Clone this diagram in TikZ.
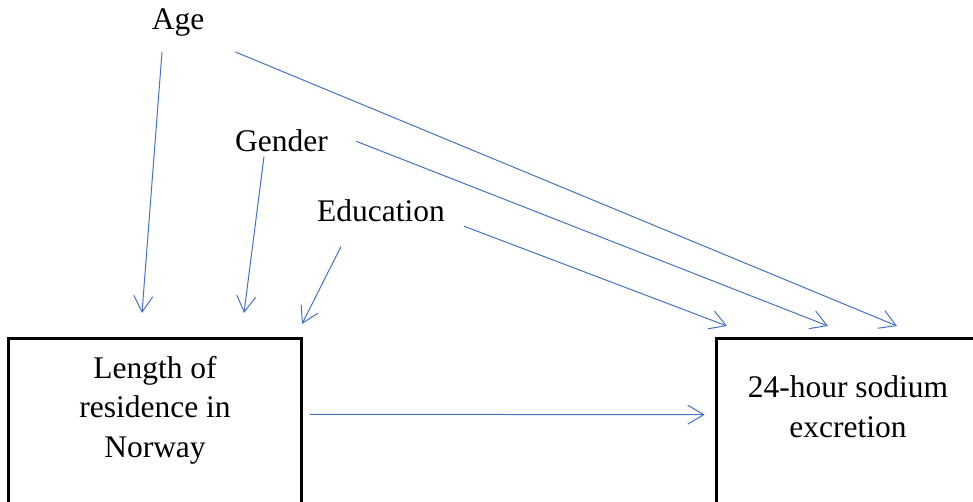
\documentclass[tikz,border=0pt]{standalone}
\usepackage{fontspec}
\setmainfont{Liberation Serif}
\usetikzlibrary{arrows.meta}
\definecolor{arrblue}{HTML}{4472C4}

\begin{document}
\begin{tikzpicture}[x=1pt,y=1pt,
    lbl/.style={inner sep=0pt,anchor=base,font=\fontsize{31.5}{39.5}\selectfont},
    box/.style={draw,line width=3pt,outer sep=0pt,anchor=north west,minimum height=200pt},
    link/.style={arrblue,line width=1pt,-{Straight Barb[length=16pt,width=19pt]}}]
    \useasboundingbox (0,0) rectangle (973,501);
    \clip (0,0) rectangle (973,501);

    \node[lbl] (Ag) at (178,471) {Age};
    \node[lbl] (Ge) at (281.5,349) {Gender};
    \node[lbl] (Ed) at (381,279) {Education};

    \node[box,minimum width=293.2pt] (L) at (8.5,162.7) {};
    \node[lbl,align=center] (LT) at (155,44) {Length of\\residence in\\Norway};
    \node[box,minimum width=300pt] (S) at (716.7,162.3) {};
    \node[lbl,align=center] (ST) at (848,64) {24-hour sodium\\excretion};

    \coordinate (L1) at (142,188);
    \coordinate (L2) at (244,188);
    \coordinate (L3) at (302,177);
    \coordinate (S1) at (897,175);
    \coordinate (S2) at (828,175);
    \coordinate (S3) at (727,175);

    \path[link] ([shift={(-16,-15)}]Ag.south) edge (L1)
    ([shift={(31,-29)}]Ag.east) edge (S1)
    ([shift={(-17.5,-4)}]Ge.south) edge (L2)
    ([shift={(28,0)}]Ge.east) edge (S2)
    ([shift={(-40,-24)}]Ed.south) edge (L3)
    ([shift={(19,-15)}]Ed.east) edge (S3)
    ([shift={(8,-76)}]L.north east) edge ([shift={(-12,-76)}]S.north west);
\end{tikzpicture}
\end{document}
